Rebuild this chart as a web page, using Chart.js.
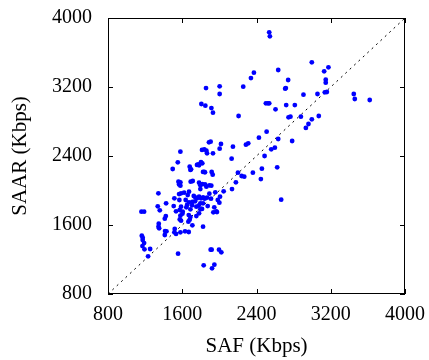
<!DOCTYPE html>
<html>
<head>
<meta charset="utf-8">
<script src="https://cdn.jsdelivr.net/npm/chart.js@4/dist/chart.umd.min.js"></script>
<style>
  html, body { margin: 0; padding: 0; background: #fff; }
  #wrap { width: 429px; height: 360px; }
</style>
</head>
<body>
<div id="wrap"><canvas id="chart" width="429" height="360"></canvas></div>
<script>
// SAF / SAAR throughput (Kbps)
const safValues = [
  2537, 2544, 2996, 3175, 3129, 2372, 2340, 2634, 2741, 3146, 3146, 2709, 2716, 2257,
  2003, 2003, 1856, 2906, 3057, 3136, 3158, 3448, 3459, 3620, 1806, 1849, 1914, 1931,
  2501, 2523, 2537, 2605, 2720, 2813, 2207, 2745, 2766, 2878, 2996, 3071, 2960, 2932,
  2509, 2426, 2634, 2784, 2598, 2559, 2487, 2458, 2623, 2361, 2447, 2666, 2146, 2132,
  2286, 2311, 2017, 2003, 2200, 2240, 2268, 2178, 2136, 2046, 2000, 1983, 2007, 1956,
  1967, 1945, 1974, 1935, 1888, 1906, 1931, 1838, 1860, 1867, 1813, 1580, 1552, 1497,
  1680, 1695, 1688, 1759, 1773, 1781, 1802, 1816, 1824, 1838, 1845, 1917, 1928, 1559,
  1580, 1566, 1580, 1691, 1713, 1781, 1795, 1816, 1845, 1860, 1892, 1913, 1795, 1587,
  1620, 1566, 1673, 1659, 1724, 1741, 1759, 1781, 1802, 1824, 1842, 1867, 1910, 1892,
  1343, 1515, 1569, 1637, 1673, 1709, 1738, 1706, 1752, 1777, 1795, 1824, 1874, 1795,
  1813, 1652, 1644, 1688, 1587, 1573, 1605, 1602, 1580, 1533, 1508, 1426, 1336, 1358,
  1160, 1189, 1423, 1412, 1347, 1344, 1351, 1573, 1587, 1670, 1688, 1680, 1666, 1752,
  1781, 1709, 1824, 1415, 1430, 1412, 1519, 1515, 1533, 1580, 1630, 1670, 1164, 1174,
  1174, 1189, 1171, 1193, 1254, 1232, 1555, 1906, 1917, 1996, 2021, 1831, 1946, 1921
];
const saarValues = [
  3834, 3787, 3486, 3428, 3382, 3366, 3304, 3397, 3281, 3285, 3250, 3181, 3188, 3204,
  3208, 3119, 3188, 3111, 3119, 3138, 3142, 3119, 3061, 3049, 3003, 2984, 2956, 2902,
  3011, 3011, 3011, 2941, 2991, 2991, 2864, 2848, 2856, 2856, 2825, 2864, 2771, 2725,
  2682, 2612, 2597, 2574, 2497, 2477, 2400, 2253, 2269, 2207, 2133, 1894, 2508, 2369,
  2531, 2547, 2539, 2485, 2207, 2168, 2160, 2095, 2017, 1990, 1859, 1890, 1928, 1979,
  1758, 1805, 1750, 1747, 2558, 2566, 2431, 2477, 2462, 2431, 2470, 2450, 2327, 2249,
  2276, 2245, 2238, 2296, 2303, 2292, 2330, 2315, 2215, 2215, 2211, 2215, 2184, 2102,
  2095, 2071, 2056, 2102, 2110, 2091, 2060, 2075, 2071, 2044, 2060, 2056, 2017, 1967,
  1975, 1959, 1986, 1947, 1936, 1921, 1909, 1928, 1909, 1921, 1905, 1917, 1905, 1963,
  1967, 1909, 1890, 1890, 1863, 1867, 1874, 1828, 1813, 1824, 1851, 1851, 1820, 1782,
  1786, 1832, 1805, 1782, 1813, 1774, 1755, 1731, 1708, 1758, 1820, 1851, 1817, 1770,
  1755, 1755, 1704, 1673, 1615, 1581, 1561, 1665, 1650, 1715, 1692, 1662, 1639, 1704,
  1735, 1596, 1581, 1530, 1527, 1484, 1554, 1515, 1496, 1515, 1527, 1519, 1476, 1453,
  1426, 1391, 1356, 1318, 1322, 1237, 1268, 1314, 1314, 1314, 1283, 1132, 1140, 1098
];
const axisTicks = [800, 1600, 2400, 3200, 4000];
const diagonal = [800, 4000];

const points = safValues.map((v, i) => ({ x: v, y: saarValues[i] }));
const diagPoints = diagonal.map(v => ({ x: v, y: v }));

// frame + inward ticks on all four sides
const framePlugin = {
  id: 'frame',
  afterDraw(chart) {
    const { ctx, chartArea: a, scales } = chart;
    ctx.save();
    ctx.strokeStyle = '#000';
    ctx.lineWidth = 1;
    ctx.strokeRect(a.left + 0.5, a.top + 0.5, a.right - a.left - 1, a.bottom - a.top - 1);
    ctx.beginPath();
    const len = 5;
    axisTicks.forEach(t => {
      const px = Math.round(scales.x.getPixelForValue(t)) + 0.5;
      ctx.moveTo(px, a.bottom); ctx.lineTo(px, a.bottom - len);
      ctx.moveTo(px, a.top); ctx.lineTo(px, a.top + len);
      const py = Math.round(scales.y.getPixelForValue(t)) + 0.5;
      ctx.moveTo(a.left, py); ctx.lineTo(a.left + len, py);
      ctx.moveTo(a.right, py); ctx.lineTo(a.right - len, py);
    });
    ctx.stroke();
    ctx.restore();
  }
};

function noOverflow(scale) {
  scale.paddingTop = 0;
  scale.paddingBottom = 0;
  scale.paddingLeft = 0;
  scale.paddingRight = 0;
}

const tickFont = { family: 'Liberation Serif', size: 20 };
const titleFont = { family: 'Liberation Serif', size: 21 };

new Chart(document.getElementById('chart').getContext('2d'), {
  type: 'scatter',
  data: {
    datasets: [
      {
        data: points,
        backgroundColor: '#0000ff',
        borderWidth: 0,
        pointRadius: 2.4,
        pointHoverRadius: 2.4
      },
      {
        type: 'line',
        data: diagPoints,
        borderColor: '#000',
        borderWidth: 1,
        borderDash: [2, 4],
        pointRadius: 0,
        fill: false
      }
    ]
  },
  options: {
    responsive: false,
    animation: false,
    layout: { padding: { left: 0, right: 24, top: 18, bottom: 0 } },
    plugins: { legend: { display: false }, tooltip: { enabled: false } },
    scales: {
      x: {
        type: 'linear',
        min: 800, max: 4000,
        afterFit(scale) { scale.height = 66; noOverflow(scale); },
        afterBuildTicks(scale) { scale.ticks = axisTicks.map(v => ({ value: v })); },
        grid: { display: false, drawTicks: false },
        border: { display: false },
        ticks: { color: '#000', font: tickFont, padding: 9, maxRotation: 0, callback: v => String(v) },
        title: { display: true, text: 'SAF (Kbps)', color: '#000', font: titleFont, padding: { top: 0, bottom: 1 } }
      },
      y: {
        type: 'linear',
        min: 800, max: 4000,
        afterFit(scale) { scale.width = 108; noOverflow(scale); },
        afterBuildTicks(scale) { scale.ticks = axisTicks.map(v => ({ value: v })); },
        grid: { display: false, drawTicks: false },
        border: { display: false },
        ticks: { color: '#000', font: tickFont, padding: 16, callback: v => String(v) },
        title: { display: true, text: 'SAAR (Kbps)', color: '#000', font: titleFont, padding: { top: 8, bottom: 0 } }
      }
    }
  },
  plugins: [framePlugin]
});
</script>
</body>
</html>
